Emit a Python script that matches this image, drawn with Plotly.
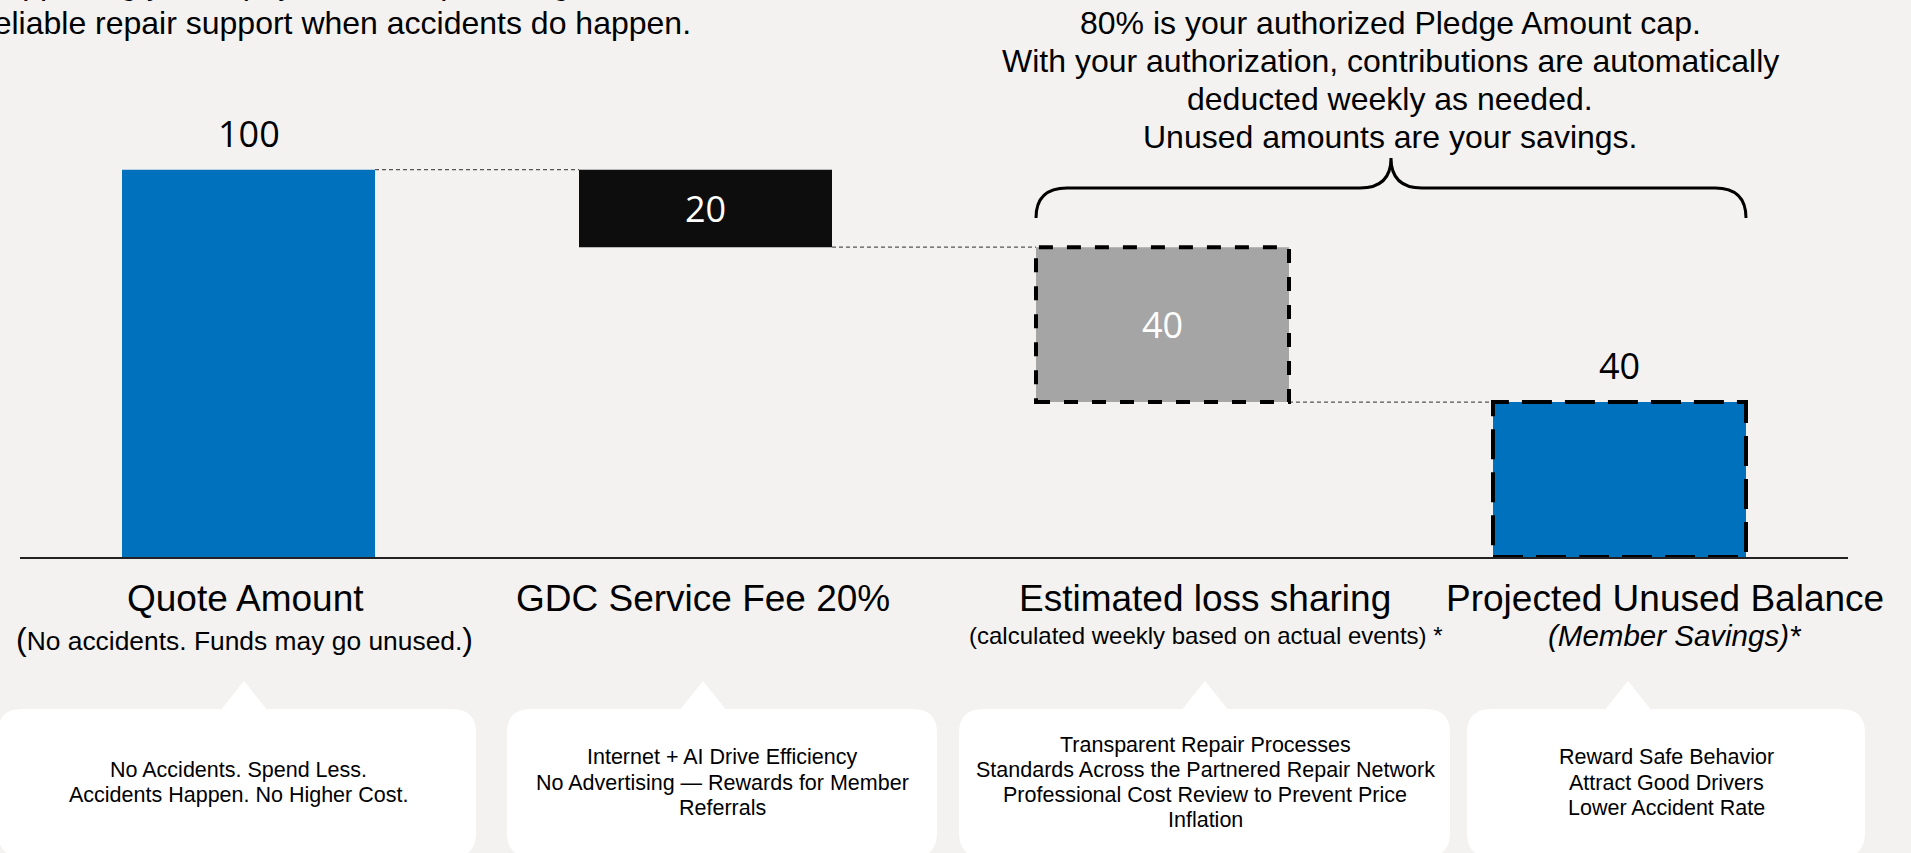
import plotly.graph_objects as go

# ---------------- data ----------------
categories = ["Quote Amount", "GDC Service Fee 20%", "Estimated loss sharing", "Projected Unused Balance"]
steps = [100, 20, 40, 40]          # bar heights
bases = [0, 80, 40, 0]             # bar bases (waterfall)
running = [100, 80, 40, 40]        # running total after each step (connector levels)
value_labels = ["100", "20", "40", "40"]
label_inside = [False, True, True, False]
bar_colors = ["#0071BC", "#0D0D0D", "#A5A5A5", "#0071BC"]
dashed_outline = [False, False, True, True]
outline_dash = [None, None, "14px,14px", "30px,13px"]

subtitles = [
    '<span style="font-size:32px">(</span>No accidents. Funds may go unused.<span style="font-size:32px">)</span>',
    "",
    "(calculated weekly based on actual events) *",
    "<i>(Member Savings)*</i>",
]
subtitle_sizes = [26.4, 24, 24, 29.5]

callouts = [
    ["No Accidents. Spend Less.", "Accidents Happen. No Higher Cost."],
    ["Internet + AI Drive Efficiency", "No Advertising \u2014 Rewards for Member", "Referrals"],
    ["Transparent Repair Processes", "Standards Across the Partnered Repair Network",
     "Professional Cost Review to Prevent Price", "Inflation"],
    ["Reward Safe Behavior", "Attract Good Drivers", "Lower Accident Rate"],
]

top_left_lines = ["Supporting you to pay less, and providing",
                  "reliable repair support when accidents do happen."]
top_right_lines = ["80% is your authorized Pledge Amount cap.",
                   "With your authorization, contributions are automatically",
                   "deducted weekly as needed.",
                   "Unused amounts are your savings."]

# ---------------- layout geometry ----------------
FIG_W, FIG_H = 1911, 853
ML, MR, MT, MB = 20, 63, 57, 296
PW = FIG_W - ML - MR
PH = FIG_H - MT - MB
Y_TOP = 129.1
BAR_W = 0.5536
BG = "#F3F2F0"
ARIAL = "Liberation Sans, Arial, Helvetica, sans-serif"
OPEN = "Open Sans, Noto Sans, sans-serif"


def px_x(px):
    return (px - ML) / PW


def px_y(py):
    return (FIG_H - MB - py) / PH


def data_y(py):
    return (FIG_H - MB - py) / PH * Y_TOP


x_pos = list(range(len(categories)))

fig = go.Figure()
fig.add_trace(go.Bar(
    x=x_pos, y=steps, base=bases, width=BAR_W,
    marker=dict(color=bar_colors, line=dict(width=0)),
    hoverinfo="skip", showlegend=False,
))

shapes = []
# connectors
for i in range(len(categories) - 1):
    shapes.append(dict(type="line", xref="x", yref="y",
                       x0=x_pos[i] + BAR_W / 2, x1=x_pos[i + 1] - BAR_W / 2,
                       y0=running[i], y1=running[i],
                       line=dict(color="#555555", width=1.3, dash="4px,3px"), layer="above"))
# dashed outlines
for i in range(len(categories)):
    if dashed_outline[i]:
        shapes.append(dict(type="rect", xref="x", yref="y",
                           x0=x_pos[i] - BAR_W / 2, x1=x_pos[i] + BAR_W / 2,
                           y0=bases[i], y1=bases[i] + steps[i],
                           line=dict(color="#000000", width=4, dash=outline_dash[i]),
                           fillcolor="rgba(0,0,0,0)", layer="above"))

# brace over the last two bars
bx0 = x_pos[2] - BAR_W / 2
bx1 = x_pos[3] + BAR_W / 2
bxm = (x_pos[2] + x_pos[3]) / 2
rx = 31 / PW * 4
yb, yh, yt = data_y(218), data_y(188), data_y(158)
brace = (f"M {bx0},{yb} Q {bx0},{yh} {bx0 + rx},{yh} L {bxm - rx},{yh} "
         f"Q {bxm},{yh} {bxm},{yt} Q {bxm},{yh} {bxm + rx},{yh} "
         f"L {bx1 - rx},{yh} Q {bx1},{yh} {bx1},{yb}")
shapes.append(dict(type="path", xref="x", yref="y", path=brace,
                   line=dict(color="#000000", width=3), layer="above"))

# callout boxes (white rounded rectangles with pointer)
box_px = [(-2, 476), (507, 937), (959, 1450), (1467, 1865)]
pointer_px = [244, 703, 1205, 1628]
BOX_TOP, BOX_BOT, APEX, HALF, R = 709, 857, 681, 22.5, 24


def P(x, y):
    return f"{px_x(x)},{px_y(y)}"


for (x0, x1), ax in zip(box_px, pointer_px):
    y0, y1 = BOX_TOP, BOX_BOT
    path = (f"M {P(x0 + R, y0)} L {P(ax - HALF, y0)} L {P(ax, APEX)} L {P(ax + HALF, y0)} "
            f"L {P(x1 - R, y0)} Q {P(x1, y0)} {P(x1, y0 + R)} L {P(x1, y1 - R)} "
            f"Q {P(x1, y1)} {P(x1 - R, y1)} L {P(x0 + R, y1)} Q {P(x0, y1)} {P(x0, y1 - R)} "
            f"L {P(x0, y0 + R)} Q {P(x0, y0)} {P(x0 + R, y0)} Z")
    shapes.append(dict(type="path", xref="paper", yref="paper", path=path,
                       fillcolor="#FFFFFF", line=dict(width=0), layer="below"))

annotations = []


def add_text(x_px, y_px, text, size, family=ARIAL, color="#000000", xanchor="center"):
    annotations.append(dict(xref="paper", yref="paper", x=px_x(x_px), y=px_y(y_px),
                            text=text, showarrow=False, xanchor=xanchor, yanchor="middle",
                            font=dict(family=family, size=size, color=color)))


# value labels
for i in range(len(categories)):
    if label_inside[i]:
        annotations.append(dict(xref="x", yref="y", x=x_pos[i], y=bases[i] + steps[i] / 2,
                                text=value_labels[i], showarrow=False, yanchor="middle",
                                font=dict(family=OPEN, size=36, color="#FFFFFF")))
    else:
        annotations.append(dict(xref="x", yref="y", x=x_pos[i], y=bases[i] + steps[i],
                                text=value_labels[i], showarrow=False, yanchor="middle",
                                yshift=36.5, font=dict(family=OPEN, size=36, color="#000000")))

# category titles and subtitles
title_x = [245, 702.5, 1205, 1665]
sub_x = [244, 702.5, 1205.5, 1675]
sub_y = [639, 639, 635, 635]
for i, name in enumerate(categories):
    add_text(title_x[i], 598, name, 37)
    if subtitles[i]:
        add_text(sub_x[i], sub_y[i], subtitles[i], subtitle_sizes[i])

# callout texts
box_cx = [238, 722, 1205, 1666]
LINE_GAP = 25.3
for cx, lines in zip(box_cx, callouts):
    n = len(lines)
    for k, line in enumerate(lines):
        add_text(cx, 782.5 + (k - (n - 1) / 2) * LINE_GAP, line, 21.5)

# top texts
top_left_y = [-16.5, 23]
for y, line in zip(top_left_y, top_left_lines):
    add_text(-19, y, line, 32, xanchor="left")
for k, line in enumerate(top_right_lines):
    add_text(1390, 22.7 + k * 38.0, line, 32)

fig.update_layout(
    width=FIG_W, height=FIG_H,
    margin=dict(l=ML, r=MR, t=MT, b=MB),
    paper_bgcolor=BG, plot_bgcolor=BG,
    showlegend=False,
    shapes=shapes, annotations=annotations,
    xaxis=dict(range=[-0.5, 3.5], showline=True, linecolor="#222222", linewidth=2,
               showticklabels=False, ticks="", showgrid=False, zeroline=False, fixedrange=True),
    yaxis=dict(range=[0, Y_TOP], visible=False, showgrid=False, zeroline=False, fixedrange=True),
)

fig.write_html("out.html", config={"displayModeBar": False},
               post_script="document.body.style.margin='0';document.body.style.overflow='hidden';")
